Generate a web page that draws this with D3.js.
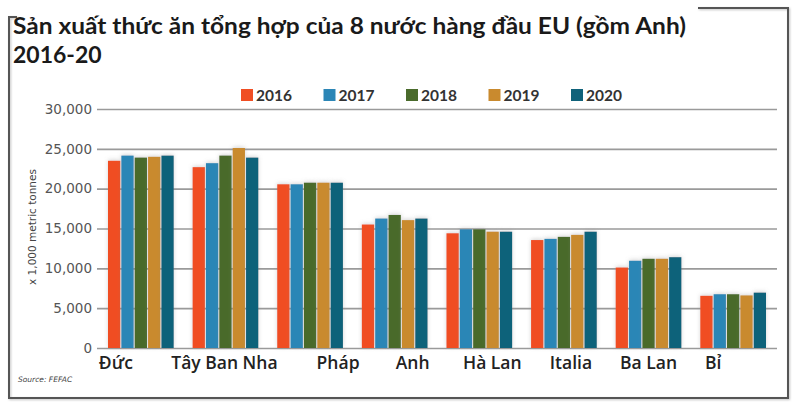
<!DOCTYPE html>
<html><head><meta charset="utf-8">
<script src="https://cdn.jsdelivr.net/npm/d3@7"></script>
<style>
html,body{margin:0;padding:0;background:#fff;}
svg{display:block;}
</style></head>
<body>
<svg id="chart" width="800" height="405"></svg>
<script>
const countries = ["Đức","Tây Ban Nha","Pháp","Anh","Hà Lan","Italia","Ba Lan","Bỉ"];
const years = ["2016","2017","2018","2019","2020"];
const v2016 = [23500,22700,20550,15500,14400,13550,10100,6550];
const v2017 = [24150,23200,20550,16250,14900,13700,10950,6750];
const v2018 = [23900,24150,20750,16700,14900,13950,11200,6750];
const v2019 = [24000,25100,20750,16050,14600,14200,11200,6600];
const v2020 = [24150,23900,20750,16250,14600,14600,11400,6950];
const seriesValues = [v2016,v2017,v2018,v2019,v2020];
const yTicks = [0,5000,10000,15000,20000,25000,30000];
const colors = ["#F04E23","#2C86B6","#4A6B2C","#C98A2E","#10627A"];
const labelShift = [-25,-1,28,18,13,7,0,-20];

const svg = d3.select("#chart");
const defs = svg.append("defs");
const f = defs.append("filter").attr("id","sh").attr("x","-30%").attr("y","-30%").attr("width","160%").attr("height","160%");
f.append("feDropShadow").attr("dx",0).attr("dy",-1).attr("stdDeviation",2).attr("flood-color","#888").attr("flood-opacity",0.35);
const ff = defs.append("filter").attr("id","fsh").attr("x","-5%").attr("y","-5%").attr("width","110%").attr("height","110%");
ff.append("feDropShadow").attr("dx",1).attr("dy",1).attr("stdDeviation",0.8).attr("flood-color","#999").attr("flood-opacity",0.6);

// frame
const frame = svg.append("g").attr("filter","url(#fsh)").attr("fill","none").attr("stroke","#555").attr("stroke-width",2);
frame.append("path").attr("d","M17,17 H9 V398 H788 V8 H698");

// title
svg.append("text").attr("x",13).attr("y",34)
  .attr("font-family","Lato, 'Open Sans', sans-serif").attr("font-weight","bold")
  .attr("font-size",23).attr("fill","#1a1a1a")
  .attr("textLength",673).attr("lengthAdjust","spacingAndGlyphs")
  .text("Sản xuất thức ăn tổng hợp của 8 nước hàng đầu EU (gồm Anh)");
svg.append("text").attr("x",13).attr("y",63)
  .attr("font-family","Lato, 'Open Sans', sans-serif").attr("font-weight","bold")
  .attr("font-size",23).attr("fill","#1a1a1a")
  .text("2016-20");

const x0 = d3.scaleBand().domain(countries).range([97,777]).paddingInner(0.2235).paddingOuter(0.13);
const x1 = d3.scaleBand().domain(years).range([0,x0.bandwidth()]).paddingInner(0.08);
const y = d3.scaleLinear().domain([0,30000]).range([348,109]);

// grid / y axis
const ya = svg.append("g").attr("transform","translate(97,0)")
  .call(d3.axisLeft(y).tickValues(yTicks).tickFormat(d3.format(",")).tickSize(-680).tickPadding(5));
ya.select(".domain").remove();
ya.selectAll("line").attr("stroke","#9a9a9a").attr("stroke-width",1.6);
ya.selectAll("text").attr("font-family","'DejaVu Sans', sans-serif").attr("font-size",13.5).attr("fill","#555");

// y title
svg.append("text").attr("transform","translate(36,227) rotate(-90)")
  .attr("text-anchor","middle").attr("font-family","'DejaVu Sans', sans-serif")
  .attr("font-size",10.5).attr("fill","#444").text("x 1,000 metric tonnes");

// bars
const groups = svg.append("g").selectAll("g").data(countries).join("g")
  .attr("transform",d=>`translate(${x0(d)},0)`);
groups.selectAll("rect").data((d,i)=>years.map((yr,j)=>({yr,j,v:seriesValues[j][i]})))
  .join("rect")
  .attr("x",d=>x1(d.yr)).attr("width",x1.bandwidth())
  .attr("y",d=>y(d.v)).attr("height",d=>y(0)-y(d.v))
  .attr("fill",d=>colors[d.j]).attr("filter","url(#sh)");

// x axis labels
const xa = svg.append("g").attr("transform","translate(0,352)")
  .call(d3.axisBottom(x0).tickSize(0).tickPadding(0));
xa.select(".domain").remove();
xa.selectAll("text").attr("font-family","'Open Sans', sans-serif").attr("font-weight",600)
  .attr("font-size",17.5).attr("fill","#222").attr("dy","0.95em")
  .attr("dx",(d,i)=>labelShift[i]);

// legend
const leg = svg.append("g").selectAll("g").data(years).join("g")
  .attr("transform",(d,i)=>`translate(${241+i*82.5},89)`);
leg.append("rect").attr("width",12).attr("height",12).attr("fill",(d,i)=>colors[i]);
leg.append("text").attr("x",15).attr("y",11.5).attr("font-family","Lato, sans-serif")
  .attr("font-weight","bold").attr("font-size",15.5).attr("fill","#333").text(d=>d);

// source
svg.append("text").attr("x",18).attr("y",382).attr("font-family","'DejaVu Sans', sans-serif")
  .attr("font-style","italic").attr("font-size",7.5).attr("fill","#444").text("Source: FEFAC");
</script>
</body></html>
